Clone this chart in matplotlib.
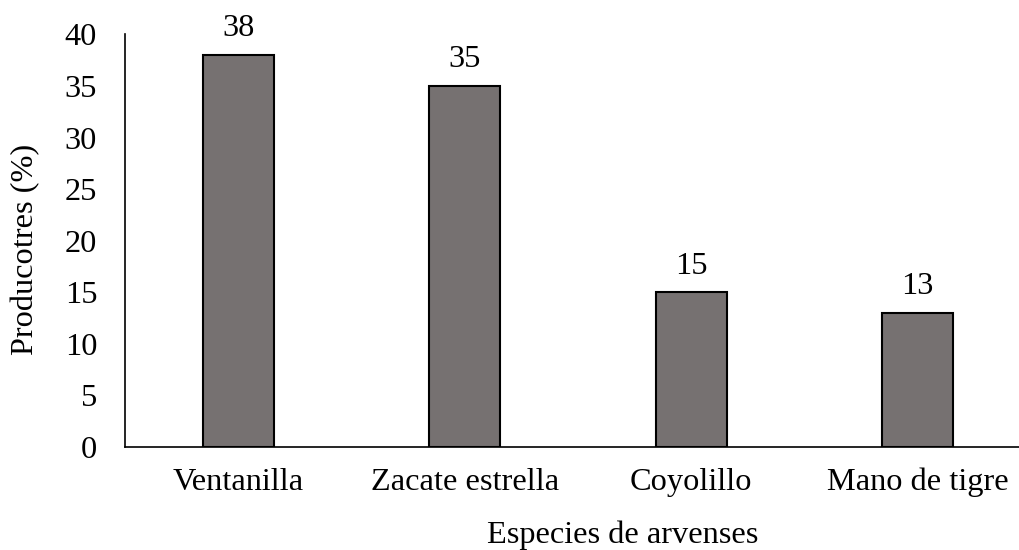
import matplotlib.pyplot as plt

categories = ["Ventanilla", "Zacate estrella", "Coyolillo", "Mano de tigre"]
values = [38, 35, 15, 13]
y_ticks = [0, 5, 10, 15, 20, 25, 30, 35, 40]

plt.rcParams['font.family'] = ['Liberation Serif', 'DejaVu Serif']
FS = 23.3

fig = plt.figure(figsize=(10.2, 5.5), dpi=100)
W, H = 1020, 550
left, right, top, bottom = 125, 1031, 34.4, 447
ax = fig.add_axes([left / W, 1 - bottom / H, (right - left) / W, (bottom - top) / H])

x = range(len(categories))
ax.bar(x, values, width=0.315, color='#767171', edgecolor='black', linewidth=1.5, zorder=3)
for xi, v in zip(x, values):
    ax.text(xi, v + 1.8, f"{v}", ha='center', va='baseline', fontsize=FS)

ax.set_xlim(-0.5, 3.5)
ax.set_ylim(0, 40)
ax.set_yticks(y_ticks)
ax.set_xticks(list(x))
ax.set_xticklabels(categories)
ax.tick_params(axis='both', length=0, labelsize=FS)
ax.tick_params(axis='y', pad=20)
ax.tick_params(axis='x', pad=15)
for s in ['top', 'right']:
    ax.spines[s].set_visible(False)
for s in ['left', 'bottom']:
    ax.spines[s].set_linewidth(1.2)
fig.text(26 / W, 1 - 249 / H, "Producotres (%)", rotation=90, ha='center', va='center', fontsize=FS)
fig.text(623 / W, 1 - 535 / H, "Especies de arvenses", ha='center', va='center', fontsize=FS)

fig.savefig("out.png", dpi=100)
